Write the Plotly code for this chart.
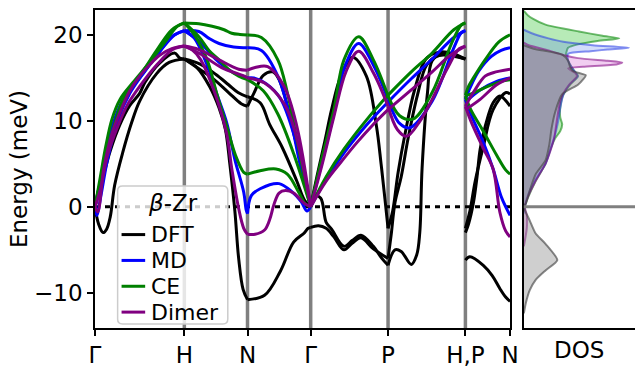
import numpy as np
import plotly.graph_objects as go

# ---------------------------------------------------------------------------
# q-path through the bcc Brillouin zone (segment lengths in units of 2*pi/a)
# ---------------------------------------------------------------------------
SEGMENT_LENGTHS = [1.0, np.sqrt(2) / 2, np.sqrt(2) / 2, np.sqrt(3) / 2, np.sqrt(3) / 2, 0.5]
TICK_TEXT = ["Γ", "H", "N", "Γ", "P", "H,P", "N"]
ENERGY_TICKS = [-10, 0, 10, 20]
ENERGY_TICK_TEXT = ["−10", "0", "10", "20"]

# Phonon branches: (segment index, fractional position along segment, energy in meV)
# segments: 0 Γ-H, 1 H-N, 2 N-Γ, 3 Γ-P, 4 P-H, 5 P-N
DFT_BRANCHES = [
    (0, [0, .04, .09, .13, .17, .22, .31, .41, .5, .69, .83, 1],
        [0, -2.0, -3.0, -2.6, -1.2, 2.5, 6.3, 9.8, 12.3, 15.5, 16.8, 17.2]),
    (0, [0, .04, .09, .17, .28, .39, .5, .56, .72, .89, .95, 1],
        [0, 2.0, 3.5, 6.5, 9.6, 11.8, 13.2, 14.5, 16.7, 17.9, 17.3, 17.2]),
    (1, [0, .2, .44, .7, .9, 1], [17.2, 16.2, 15.0, 13.3, 12.0, 11.7]),
    (1, [0, .25, .5, .7, .85, 1], [17.2, 16.6, 15.4, 14.2, 13.3, 12.8]),
    (1, [0, .2, .4, .55, .65, .72, .8, .86, .93, 1],
        [17.2, 16.2, 14.0, 11.5, 9.0, 5.0, -0.5, -6.0, -9.6, -10.8]),
    (2, [0, .27, .52, .73, .89, .96, 1], [-10.8, -10.3, -7.5, -4.1, -3.1, -2.5, -2.4]),
    (2, [0, .1, .25, .4, .5, .71, .86, 1], [11.7, 13.2, 15.3, 15.7, 14.8, 9.4, 4.5, 0]),
    (2, [0, .2, .35, .55, .78, .9, 1], [12.8, 12.1, 9.6, 6.9, 3.0, 0.8, 0]),
    (3, [0, .08, .18, .27, .39, .54, .72, .85, .91, .96, 1],
        [0, 3.5, 7.5, 11.3, 15.2, 17.4, 15.2, 9.4, 5.0, 0.9, -2.5]),
    (3, [0, .05, .13, .2, .27, .43, .54, .65, .81, .92, 1],
        [0, 1.3, 1.0, -1.8, -2.6, -4.6, -3.9, -3.3, -4.6, -6.0, -6.8]),
    (3, [0, .1, .2, .3, .43, .54, .65, .81, 1],
        [-2.4, -2.2, -2.5, -3.5, -5.0, -4.2, -3.6, -4.9, -6.0]),
    (4, [0, .06, .13, .22, .34, .49, .66, .85, 1],
        [-2.5, -0.5, 4.0, 8.5, 13.5, 17.2, 18.0, 17.8, 17.2]),
    (4, [0, .04, .09, .17, .26, .38, .5, .66, 1],
        [-6.0, -3.3, 0.5, 3.5, 8.0, 13.0, 16.5, 17.6, 17.2]),
    (4, [0, .09, .17, .3, .37, .41, .44, .51, .57, .7, 1],
        [-6.8, -5.0, -5.2, -6.7, -5.6, -3.0, 4.5, 13.3, 17.0, 17.8, 17.2]),
    (5, [0, .1, .4, .6, .77, .9, 1], [-6.2, -5.8, -6.8, -8.0, -9.5, -10.5, -11.0]),
    (5, [0, .07, .18, .26, .33, .45, .62, .77, 1],
        [-3.0, -2.0, 0.5, 3.5, 6.7, 9.5, 12.1, 12.9, 11.7]),
    (5, [0, .1, .22, .4, .62, .91, 1], [-2.5, -0.5, 3.0, 7.0, 11.3, 13.3, 13.1]),
]

MD_BRANCHES = [
    (0, [0, .07, .14, .22, .33, .5, .69, .86, 1], [0, 3.5, 7.5, 10.2, 12.8, 15.0, 17.6, 19.8, 20.5]),
    (0, [0, .02, .07, .14, .26, .39, .56, .72, .89, 1],
        [0, -1.0, 1.5, 5.5, 10.2, 13.2, 15.8, 18.0, 20.0, 20.5]),
    (1, [0, .23, .39, .55, .78, 1], [20.5, 20.4, 19.6, 19.0, 18.6, 18.5]),
    (1, [0, .23, .39, .55, .78, 1], [20.5, 19.3, 18.0, 16.8, 15.6, 15.0]),
    (1, [0, .16, .36, .52, .67, .8, .94, .98, 1], [20.5, 19.6, 16.5, 13.0, 9.8, 5.5, 1.7, -0.4, -0.8]),
    (2, [0, .22, .48, .68, .83, 1], [18.5, 18.2, 15.2, 10.2, 5.0, 0]),
    (2, [0, .1, .3, .52, .75, 1], [15.0, 15.0, 14.3, 12.6, 8.0, 0]),
    (2, [0, .06, .2, .5, .71, .85, .94, 1], [-0.8, 1.3, 2.1, 2.7, 1.7, 0.6, -0.5, 0]),
    (3, [0, .14, .3, .44, .62, .81, 1], [0, 5.0, 10.8, 16.3, 19.0, 16.5, 12.5]),
    (3, [0, .2, .45, .73, 1], [0, 3.2, 6.5, 9.6, 12.2]),
    (4, [0, .15, .28, .57, .85, .95, 1], [12.5, 9.7, 9.2, 12.3, 18.5, 20.3, 20.5]),
    (4, [0, .3, .57, .85, 1], [12.2, 14.9, 17.2, 19.7, 20.5]),
    (5, [0, .1, .3, .58, .8, 1], [12.5, 13.8, 15.8, 17.5, 18.2, 18.5]),
    (5, [0, .33, .7, 1], [12.2, 13.6, 14.6, 15.0]),
    (5, [0, .12, .4, .62, .8, .93, 1], [12.5, 10.8, 7.5, 4.4, 1.2, -0.3, -1.0]),
]

CE_BRANCHES = [
    (0, [0, .06, .12, .19, .28, .42, .61, .8, .92, 1], [0, 3.5, 7.0, 10.2, 12.5, 14.4, 16.8, 19.4, 21.0, 21.4]),
    (0, [0, .07, .14, .23, .33, .5, .69, .86, 1], [0, 3.0, 6.5, 10.0, 12.8, 15.2, 18.2, 20.6, 21.4]),
    (1, [0, .23, .44, .63, .75, .88, 1], [21.4, 21.3, 21.0, 20.6, 20.2, 20.05, 20.0]),
    (1, [0, .23, .39, .55, .7, .86, 1], [21.4, 19.8, 18.2, 17.1, 16.0, 15.2, 14.8]),
    (1, [0, .16, .36, .52, .67, .81, .94, 1], [21.4, 20.0, 17.1, 13.0, 9.4, 6.0, 4.0, 3.8]),
    (2, [0, .22, .48, .63, .75, .88, 1], [20.0, 19.7, 17.1, 13.3, 9.0, 4.2, 0]),
    (2, [0, .25, .48, .73, 1], [14.8, 13.5, 10.8, 6.2, 0]),
    (2, [0, .2, .45, .63, .81, .92, 1], [3.8, 4.2, 4.4, 3.8, 1.7, 0.3, 0]),
    (3, [0, .14, .3, .43, .62, .81, 1], [0, 5.5, 11.3, 17.1, 19.8, 17.1, 12.9]),
    (3, [0, .2, .43, .73, 1], [0, 3.5, 6.7, 10.2, 13.0]),
    (4, [0, .15, .32, .57, .82, .95, 1], [12.9, 10.6, 10.2, 13.3, 19.0, 21.2, 21.4]),
    (4, [0, .3, .57, .85, 1], [13.0, 15.7, 17.9, 20.6, 21.4]),
    (5, [0, .07, .18, .44, .75, 1], [13.0, 14.0, 15.0, 17.1, 19.2, 20.0]),
    (5, [0, .2, .5, .8, 1], [12.9, 13.3, 14.0, 14.6, 14.8]),
    (5, [0, .12, .4, .7, .9, 1], [12.9, 11.3, 8.8, 6.0, 4.3, 3.8]),
]

DIMER_BRANCHES = [
    (0, [0, .03, .10, .19, .28, .39, .5, .61, .72, .86, 1],
        [0, -0.6, 4.5, 8.5, 11.0, 13.5, 15.2, 16.5, 17.6, 18.4, 18.7]),
    (0, [0, .06, .14, .26, .36, .5, .69, .87, 1], [0, 2.0, 6.0, 9.5, 11.8, 14.0, 16.5, 18.3, 18.7]),
    (1, [0, .23, .55, .86, 1], [18.7, 18.3, 17.1, 16.0, 15.9]),
    (1, [0, .23, .59, .95, 1], [18.7, 17.9, 16.2, 15.2, 15.0]),
    (1, [0, .12, .26, .47, .67, .75, .86, .94, 1], [18.7, 18.3, 17.1, 13.5, 8.5, 4.5, -0.2, -2.5, -3.2]),
    (2, [0, .12, .32, .58, .78, 1], [15.9, 16.2, 16.3, 14.0, 9.4, 0]),
    (2, [0, .27, .58, .75, 1], [15.0, 14.4, 12.0, 8.8, 0]),
    (2, [0, .12, .27, .35, .42, .5, .6, .73, .9, 1], [-3.2, -3.2, -2.7, -1.5, 0.3, 1.6, 1.9, 1.6, 0.4, 0]),
    (3, [0, .15, .3, .46, .62, .81, 1], [0, 5.0, 10.5, 15.8, 18.1, 15.6, 11.7]),
    (3, [0, .2, .4, .6, .8, 1], [0, 3.0, 5.3, 7.5, 9.5, 11.3]),
    (4, [0, .12, .24, .4, .57, .76, .92, 1], [11.7, 9.0, 8.2, 9.8, 12.5, 16.0, 18.4, 18.7]),
    (4, [0, .3, .57, .8, 1], [11.3, 13.6, 15.7, 17.6, 18.7]),
    (5, [0, .2, .44, .62, 1], [11.7, 13.5, 15.2, 15.6, 16.0]),
    (5, [0, .33, .7, 1], [11.3, 12.5, 14.2, 15.0]),
    (5, [0, .12, .4, .62, .77, .9, 1], [11.7, 10.0, 6.8, 4.4, -0.6, -2.8, -3.5]),
]

# Phonon densities of states (energy in meV, DOS in arbitrary units)
DOS_DFT_E = [18.8, 18.4, 17.7, 17.0, 16.3, 15.8, 15.3, 14.8, 14.2, 13.1, 11.1, 9.0, 7.3, 5.4, 3.8, 1.9,
             0.4, 0.0, -1.6, -3.1, -4.3, -6.2, -7.4, -8.5, -9.7, -11.2, -12.4]
DOS_DFT = [0.0, 0.1, 0.39, 0.45, 0.47, 0.5, 0.63, 0.6, 0.55, 0.39, 0.32, 0.28, 0.26, 0.22, 0.12, 0.06,
           0.02, 0.0, 0.06, 0.12, 0.22, 0.34, 0.22, 0.12, 0.06, 0.02, 0.0]
DOS_MD_E = [20.6, 20.2, 19.6, 19.2, 18.8, 18.5, 18.3, 18.1, 17.8, 17.0, 16.0, 15.2, 14.2, 13.0, 11.5,
            10.0, 8.5, 7.0, 5.0, 3.0, 1.0, 0.0, -0.8]
DOS_MD = [0.0, 0.08, 0.25, 0.4, 0.7, 1.07, 0.85, 0.68, 0.45, 0.45, 0.5, 0.55, 0.46, 0.4, 0.37,
          0.35, 0.32, 0.28, 0.22, 0.11, 0.03, 0.01, 0.0]
DOS_CE_E = [22.8, 22.3, 21.9, 21.2, 20.4, 19.9, 19.6, 19.3, 18.9, 18.5, 17.8, 17.0, 16.0, 15.2, 14.2,
            13.0, 11.5, 10.4, 9.6, 8.8, 8.0, 7.0, 5.0, 3.0, 1.0, 0.0, -0.5]
DOS_CE = [0.0, 0.04, 0.09, 0.22, 0.56, 0.8, 0.97, 0.75, 0.55, 0.45, 0.43, 0.45, 0.5, 0.55, 0.47,
          0.4, 0.37, 0.37, 0.39, 0.37, 0.32, 0.28, 0.22, 0.12, 0.04, 0.01, 0.0]
DOS_DIMER_E = [19.1, 18.8, 18.2, 17.7, 17.3, 17.0, 16.8, 16.6, 16.3, 16.1, 15.6, 15.2, 14.2, 13.2, 12.3,
               10.4, 8.1, 6.5, 5.0, 3.0, 1.1, 0.0, -1.0, -2.5, -4.6]
DOS_DIMER = [0.0, 0.05, 0.25, 0.39, 0.55, 0.85, 1.0, 0.95, 0.6, 0.45, 0.52, 0.54, 0.46, 0.4, 0.37,
             0.34, 0.31, 0.27, 0.22, 0.12, 0.04, 0.01, 0.03, 0.03, 0.0]

MODELS = [
    ("DFT", DFT_BRANCHES, "black", DOS_DFT_E, DOS_DFT, "rgba(128,128,128,0.38)", "rgba(70,70,70,0.65)"),
    ("MD", MD_BRANCHES, "#0000ff", DOS_MD_E, DOS_MD, "rgba(80,120,240,0.25)", "rgba(40,60,230,0.55)"),
    ("CE", CE_BRANCHES, "#008000", DOS_CE_E, DOS_CE, "rgba(50,195,50,0.35)", "rgba(0,130,0,0.55)"),
    ("Dimer", DIMER_BRANCHES, "#800080", DOS_DIMER_E, DOS_DIMER, "rgba(205,80,205,0.28)",
     "rgba(128,0,128,0.55)"),
]

FONT = "DejaVu Sans"
seg_start = np.concatenate([[0.0], np.cumsum(SEGMENT_LENGTHS)])
q_total = seg_start[-1]

fig = go.Figure()

# dotted zero-energy reference in the dispersion panel
fig.add_trace(go.Scatter(x=[0, q_total], y=[0, 0], mode="lines",
                         line=dict(color="black", width=3, dash="5px,5px"),
                         showlegend=False, hoverinfo="skip", xaxis="x", yaxis="y"))

# dispersion curves
for name, branches, color, *_ in MODELS:
    for seg, frac, energy in branches:
        q = seg_start[seg] + np.asarray(frac) * SEGMENT_LENGTHS[seg]
        fig.add_trace(go.Scatter(
            x=q, y=energy, mode="lines", name=name, showlegend=False,
            line=dict(color=color, width=3, shape="spline", smoothing=1.0),
            hoverinfo="skip", xaxis="x", yaxis="y"))

# densities of states (CE, MD, Dimer, then DFT on top)
for idx in [2, 1, 3, 0]:
    name, _, _, dos_e, dos, fill, edge = MODELS[idx]
    fig.add_trace(go.Scatter(
        x=dos, y=dos_e, mode="lines", fill="tozerox", fillcolor=fill,
        line=dict(color=edge, width=2, shape="spline", smoothing=0.6),
        showlegend=False, hoverinfo="skip", xaxis="x2", yaxis="y2"))

W, H = 644, 368
ML, MR, MT, MB = 95, 0, 10, 38
pw = W - ML - MR
ph = H - MT - MB
main_right = (517 - ML) / pw
dos_left = (531 - ML) / pw


def px_x(px):
    return (px - ML) / pw


def px_y(py):
    return (H - MB - py) / ph


shapes = []
for q in seg_start[1:-1]:
    shapes.append(dict(type="line", xref="x", yref="y domain", x0=q, x1=q, y0=0, y1=1,
                       line=dict(color="#808080", width=3.5), layer="below"))
shapes.append(dict(type="line", xref="x2 domain", yref="y2", x0=0, x1=1, y0=0, y1=0,
                   line=dict(color="#808080", width=3), layer="above"))

# legend box (rounded, semi-transparent) with line handles
bx0, bx1, by0, by1, rad = px_x(118), px_x(230), px_y(326), px_y(187), 5
rx, ry = rad / pw, rad / ph
box_path = (f"M {bx0 + rx},{by0} L {bx1 - rx},{by0} Q {bx1},{by0} {bx1},{by0 + ry} "
            f"L {bx1},{by1 - ry} Q {bx1},{by1} {bx1 - rx},{by1} L {bx0 + rx},{by1} "
            f"Q {bx0},{by1} {bx0},{by1 - ry} L {bx0},{by0 + ry} Q {bx0},{by0} {bx0 + rx},{by0} Z")
shapes.append(dict(type="path", xref="paper", yref="paper", path=box_path,
                   fillcolor="rgba(255,255,255,0.8)", line=dict(color="#cccccc", width=1.5),
                   layer="above"))

annotations = [dict(text="<i>β</i>-Zr", xref="paper", yref="paper", x=px_x(174), y=px_y(204),
                    xanchor="center", yanchor="middle", showarrow=False,
                    font=dict(family=FONT, size=23, color="black"))]
row_y = [236, 262, 288, 314]
for (name, _, color, *_), ry_px in zip(MODELS, row_y):
    shapes.append(dict(type="line", xref="paper", yref="paper", x0=px_x(122), x1=px_x(146),
                       y0=px_y(ry_px), y1=px_y(ry_px), line=dict(color=color, width=3),
                       layer="above"))
    annotations.append(dict(text=name, xref="paper", yref="paper", x=px_x(150), y=px_y(ry_px),
                            xanchor="left", yanchor="middle", showarrow=False,
                            font=dict(family=FONT, size=22, color="black")))

annotations.append(dict(text="DOS", xref="paper", yref="paper", x=px_x(587), y=px_y(352),
                        xanchor="center", yanchor="middle", showarrow=False,
                        font=dict(family=FONT, size=23, color="black")))

axis_common = dict(showline=True, linecolor="black", linewidth=1.6, showgrid=False, zeroline=False,
                   tickfont=dict(family=FONT, size=23, color="black"))
E_RANGE = [-14.1, 22.9]

fig.update_layout(
    width=W, height=H,
    margin=dict(l=ML, r=MR, t=MT, b=MB),
    paper_bgcolor="white", plot_bgcolor="white",
    font=dict(family=FONT, size=23, color="black"),
    showlegend=False,
    xaxis=dict(domain=[0, main_right], range=[0, q_total], tickmode="array",
               tickvals=list(seg_start), ticktext=TICK_TEXT, ticks="outside", ticklen=6,
               tickwidth=1.6, tickcolor="black", mirror=True, **axis_common),
    yaxis=dict(range=E_RANGE, tickmode="array", tickvals=ENERGY_TICKS, ticktext=ENERGY_TICK_TEXT,
               ticks="outside", ticklen=6, tickwidth=1.6, tickcolor="black", mirror=True,
               title=dict(text="Energy (meV)", font=dict(family=FONT, size=23, color="black"),
                          standoff=0),
               **axis_common),
    xaxis2=dict(domain=[dos_left, 1.0], range=[0, 1.13], anchor="y2", showticklabels=False,
                ticks="", mirror=True, **axis_common),
    yaxis2=dict(range=E_RANGE, anchor="x2", showticklabels=False, ticks="", mirror=False,
                **axis_common),
    shapes=shapes,
    annotations=annotations,
)

fig.write_html("out.html")
